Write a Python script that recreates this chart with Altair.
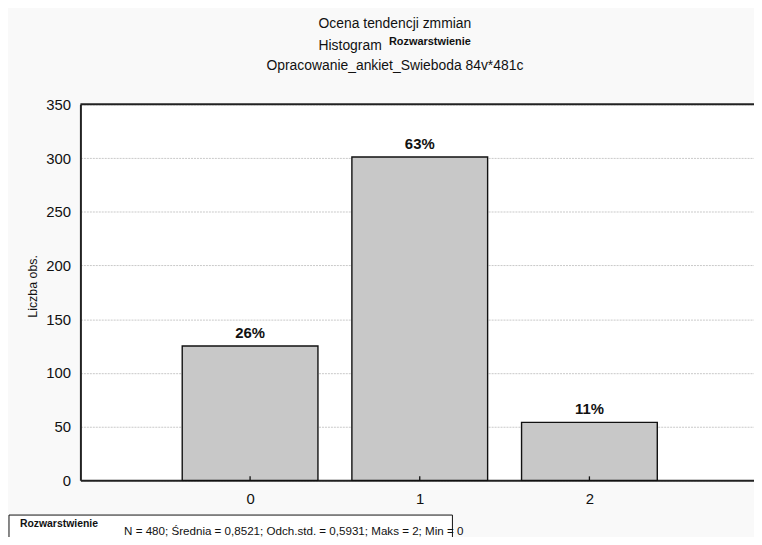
import altair as alt
import pandas as pd

# ---- data ----
categories = [0, 1, 2]
counts = [125, 301, 54]
pct_labels = ["26%", "63%", "11%"]
y_ticks = [0, 50, 100, 150, 200, 250, 300, 350]
title_line1 = "Ocena tendencji zmmian"
title_line2 = "Histogram"
superscript = "Rozwarstwienie"
title_line3 = "Opracowanie_ankiet_Swieboda 84v*481c"
stats_label = "Rozwarstwienie"
stats_text = "N = 480; Średnia = 0,8521; Odch.std. = 0,5931; Maks = 2; Min = 0"
y_title = "Liczba obs."

df = pd.DataFrame({"cat": categories, "count": counts, "pct": pct_labels})
one = pd.DataFrame({"k": [0]})

W, H = 679, 379
FONT = "Liberation Sans"
xs = alt.Scale(domain=[-1, 2.97], nice=False, zero=False)
ys = alt.Scale(domain=[0, 350], nice=False)

bars = (
    alt.Chart(df)
    .transform_calculate(x0="datum.cat - 0.4", x1="datum.cat + 0.4")
    .mark_bar(fill="#c8c8c8", stroke="#111111", strokeWidth=1.4)
    .encode(
        x=alt.X(
            "x0:Q",
            scale=xs,
            axis=alt.Axis(
                values=categories, title=None, format="d", grid=False,
                labelFont=FONT, labelFontSize=15, labelColor="#111111",
                tickSize=0, labelPadding=11, domainColor="#222222", domainWidth=2,
            ),
        ),
        x2="x1:Q",
        y=alt.Y(
            "count:Q",
            scale=ys,
            axis=alt.Axis(
                values=y_ticks, title=y_title, format="d",
                labelFont=FONT, labelFontSize=15, labelColor="#111111",
                tickSize=0, labelPadding=10, domainColor="#222222", domainWidth=2,
                grid=True, gridColor="#c8c8c8", gridDash=[2, 1], gridWidth=1,
                titleFont=FONT, titleFontSize=12.5, titleFontWeight="normal",
                titleColor="#111111", titleAngle=-90, titleX=-48, titleY=183,
                titleAlign="center", titleBaseline="middle",
            ),
        ),
        y2=alt.datum(0),
    )
)

ticks = (
    alt.Chart(df)
    .mark_rule(color="#111111", strokeWidth=1.3)
    .encode(x=alt.X("cat:Q", scale=xs, title=None), y=alt.value(H), y2=alt.value(H - 4))
)

labels = (
    alt.Chart(df)
    .mark_text(baseline="bottom", dy=-5, font=FONT, fontSize=15, fontWeight="bold", color="#111111")
    .encode(
        x=alt.X("cat:Q", scale=xs, title=None),
        y=alt.Y("count:Q", scale=ys, title=y_title),
        text="pct:N",
    )
)

top_line = alt.Chart(one).mark_rule(color="#222222", strokeWidth=2).encode(
    x=alt.value(0), x2=alt.value(W), y=alt.value(0)
)

def txt(text, x, y, size, weight="normal", align="center"):
    return alt.Chart(one).mark_text(
        text=text, font=FONT, fontSize=size, fontWeight=weight, align=align,
        baseline="alphabetic", color="#111111",
    ).encode(x=alt.value(x), y=alt.value(y))

t1 = txt(title_line1, 317, -77, 14)
t2 = txt(title_line2, 240, -55, 14, align="left")
t2s = txt(superscript, 311, -60, 11, weight="bold", align="left")
t3 = txt(title_line3, 317, -35, 14)

box = alt.Chart(one).mark_rect(fill="white", stroke="#111111", strokeWidth=1).encode(
    x=alt.value(-72), x2=alt.value(375), y=alt.value(414), y2=alt.value(460)
)
s1 = txt(stats_label, -61, 426, 10.5, weight="bold", align="left")
s2 = txt(stats_text, 44, 434, 11.7, align="left")

chart = (
    alt.layer(bars, ticks, labels, top_line, t1, t2, t2s, t3, box, s1, s2)
    .properties(
        width=W, height=H,
        autosize=alt.AutoSizeParams(type="none"),
        padding={"left": 73, "top": 95, "right": 0, "bottom": 55},
        background="#f9f9f9",
    )
    .configure_view(stroke=None, fill="white")
)

chart.save("out.html", embed_options={"renderer": "svg", "actions": False})
